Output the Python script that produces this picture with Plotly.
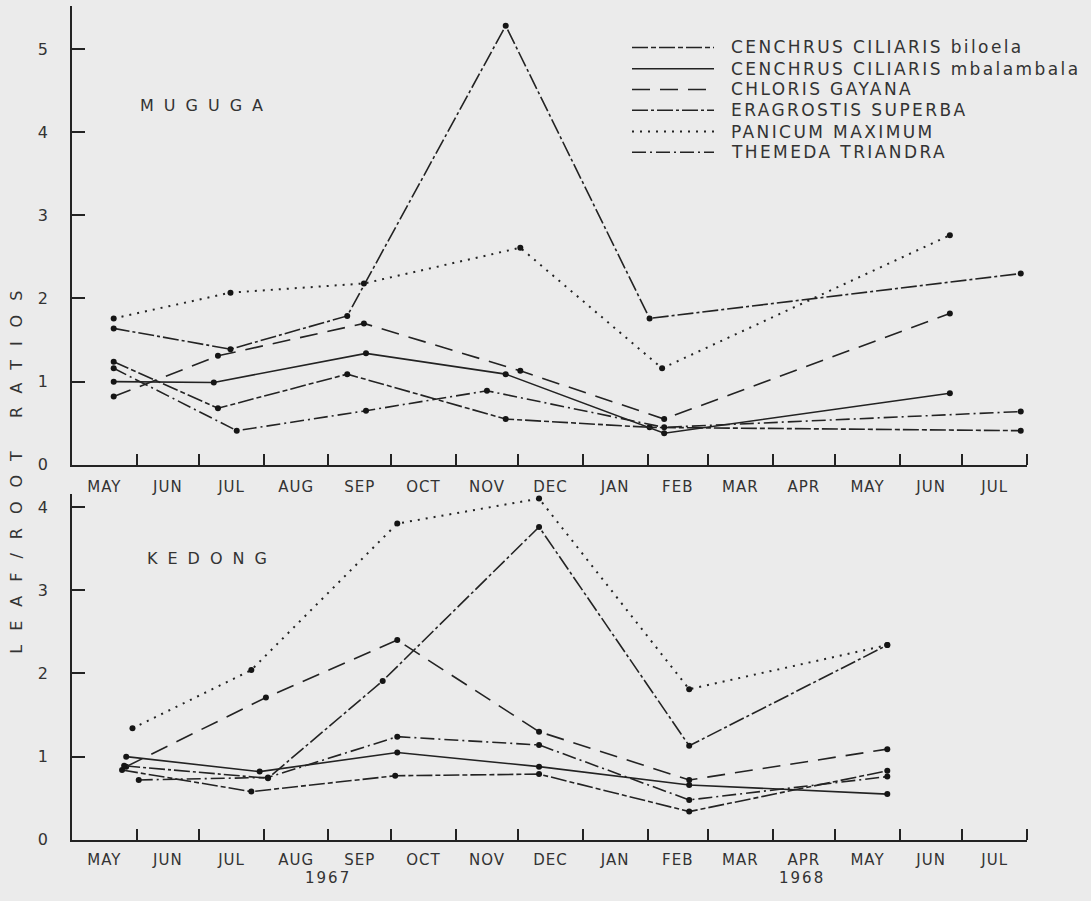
import pandas as pd
import plotly.graph_objects as go

# ---------------- data ----------------
SERIES = [
    "CENCHRUS CILIARIS biloela",
    "CENCHRUS CILIARIS mbalambala",
    "CHLORIS GAYANA",
    "ERAGROSTIS SUPERBA",
    "PANICUM MAXIMUM",
    "THEMEDA TRIANDRA",
]

MONTH_LABELS = ["MAY", "JUN", "JUL", "AUG", "SEP", "OCT", "NOV", "DEC",
                "JAN", "FEB", "MAR", "APR", "MAY", "JUN", "JUL"]
YEAR_LABELS = ["1967", "1968"]
YEAR_LABEL_DATES = ["1967-09-01", "1968-04-15"]

# MUGUGA (top panel)
mug_biloela_dates = ["1967-05-21", "1967-07-10", "1967-09-10", "1967-11-25", "1968-02-02", "1968-07-29"]
mug_biloela_vals = [1.24, 0.68, 1.09, 0.55, 0.45, 0.41]
mug_mbal_dates = ["1967-05-21", "1967-07-08", "1967-09-19", "1967-11-25", "1968-02-09", "1968-06-25"]
mug_mbal_vals = [1.00, 0.99, 1.34, 1.09, 0.38, 0.86]
mug_chloris_dates = ["1967-05-21", "1967-07-10", "1967-09-18", "1967-12-02", "1968-02-09", "1968-06-25"]
mug_chloris_vals = [0.82, 1.31, 1.70, 1.13, 0.55, 1.82]
mug_erag_dates = ["1967-05-21", "1967-07-16", "1967-09-10", "1967-11-25", "1968-02-02", "1968-07-29"]
mug_erag_vals = [1.64, 1.39, 1.79, 5.28, 1.76, 2.30]
mug_panicum_dates = ["1967-05-21", "1967-07-16", "1967-09-18", "1967-12-02", "1968-02-08", "1968-06-25"]
mug_panicum_vals = [1.76, 2.07, 2.18, 2.61, 1.16, 2.76]
mug_themeda_dates = ["1967-05-21", "1967-07-19", "1967-09-19", "1967-11-16", "1968-02-09", "1968-07-29"]
mug_themeda_vals = [1.16, 0.41, 0.65, 0.89, 0.45, 0.64]

# KEDONG (bottom panel)
ked_biloela_dates = ["1967-05-25", "1967-07-26", "1967-10-03", "1967-12-11", "1968-02-21", "1968-05-26"]
ked_biloela_vals = [0.84, 0.58, 0.77, 0.79, 0.34, 0.83]
ked_mbal_dates = ["1967-05-27", "1967-07-30", "1967-10-04", "1967-12-11", "1968-02-21", "1968-05-26"]
ked_mbal_vals = [1.00, 0.82, 1.05, 0.88, 0.66, 0.55]
ked_chloris_dates = ["1967-05-27", "1967-08-02", "1967-10-04", "1967-12-11", "1968-02-21", "1968-05-26"]
ked_chloris_vals = [0.88, 1.71, 2.40, 1.30, 0.72, 1.09]
ked_erag_dates = ["1967-05-26", "1967-08-03", "1967-09-27", "1967-12-11", "1968-02-21", "1968-05-26"]
ked_erag_vals = [0.89, 0.74, 1.91, 3.76, 1.13, 2.34]
ked_panicum_dates = ["1967-05-30", "1967-07-26", "1967-10-04", "1967-12-11", "1968-02-21", "1968-05-26"]
ked_panicum_vals = [1.34, 2.04, 3.80, 4.10, 1.81, 2.34]
ked_themeda_dates = ["1967-06-02", "1967-08-03", "1967-10-04", "1967-12-11", "1968-02-21", "1968-05-26"]
ked_themeda_vals = [0.72, 0.75, 1.24, 1.14, 0.48, 0.76]

TOP_TICKS = [0, 1, 2, 3, 4, 5]
BOTTOM_TICKS = [0, 1, 2, 3, 4]

# ---------------- styling ----------------
W, H = 1091, 901
INK = "#232323"
TXT = "#333333"
BG = "#ebebeb"
FONT = "DejaVu Sans"
DASHES = ["16px,3px,5px,3px", "solid", "18px,10px", "16px,3px,3px,3px", "2px,6px", "14px,4px,2px,4px"]
WIDTHS = [1.6, 1.6, 1.6, 1.6, 2.0, 1.6]

muguga = [(mug_biloela_dates, mug_biloela_vals), (mug_mbal_dates, mug_mbal_vals),
          (mug_chloris_dates, mug_chloris_vals), (mug_erag_dates, mug_erag_vals),
          (mug_panicum_dates, mug_panicum_vals), (mug_themeda_dates, mug_themeda_vals)]
kedong = [(ked_biloela_dates, ked_biloela_vals), (ked_mbal_dates, ked_mbal_vals),
          (ked_chloris_dates, ked_chloris_vals), (ked_erag_dates, ked_erag_vals),
          (ked_panicum_dates, ked_panicum_vals), (ked_themeda_dates, ked_themeda_vals)]

month_starts = pd.date_range("1967-05-01", periods=16, freq="MS")
month_mids = [month_starts[i] + (month_starts[i + 1] - month_starts[i]) / 2 for i in range(15)]


def spaced(txt, px):
    return f'<span style="letter-spacing:{px}px">{txt}</span>'


def px_x(p):
    return p / W


def px_y(p):
    return 1 - p / H


fig = go.Figure()
for xa, ya, data in [("x", "y", muguga), ("x2", "y2", kedong)]:
    for i, (d, v) in enumerate(data):
        fig.add_trace(go.Scatter(
            x=d, y=v, mode="lines", xaxis=xa, yaxis=ya,
            line=dict(color=INK, width=WIDTHS[i], dash=DASHES[i]),
            name=SERIES[i], showlegend=False, hoverinfo="skip"))
        fig.add_trace(go.Scatter(
            x=d, y=v, mode="markers", xaxis=xa, yaxis=ya, name=SERIES[i],
            marker=dict(color="#151515", size=6), showlegend=False, hoverinfo="skip"))

XDOM = [px_x(72), px_x(1027)]
xcommon = dict(
    type="date", domain=XDOM, range=[month_starts[0], month_starts[-1]],
    tickmode="array", tickvals=month_mids, ticktext=[spaced(m, 1) for m in MONTH_LABELS], ticks="",
    showline=True, linecolor=INK, linewidth=1.8, showgrid=False, zeroline=False,
    tickfont=dict(family=FONT, size=15, color=TXT),
    minor=dict(tickmode="array", tickvals=list(month_starts[1:]), ticks="inside", ticklen=11,
               tickwidth=1.6, tickcolor=INK, showgrid=False),
)
ycommon = dict(
    showline=True, linecolor=INK, linewidth=1.8, showgrid=False, zeroline=False,
    ticks="inside", ticklen=13, tickwidth=1.6, tickcolor=INK, ticklabelstandoff=19,
    tickfont=dict(family=FONT, size=16, color=TXT), tickmode="array",
)

fig.update_layout(
    width=W, height=H, margin=dict(l=0, r=0, t=0, b=0),
    paper_bgcolor=BG, plot_bgcolor=BG, showlegend=False,
    xaxis=dict(anchor="y", ticklabelstandoff=7, **xcommon),
    yaxis=dict(anchor="x", domain=[px_y(470), px_y(5.8)], range=[0, 5.52],
               tickvals=TOP_TICKS, **ycommon),
    xaxis2=dict(anchor="y2", ticklabelstandoff=5, **xcommon),
    yaxis2=dict(anchor="x2", domain=[px_y(849.3), px_y(500)], range=[0, 4.15],
                tickvals=BOTTOM_TICKS, **ycommon),
)

# legend drawn as text + sample lines (top-right of the upper panel)
LEG_ROWS = [48, 69.5, 90.5, 111.5, 133, 154]
annots = []
shapes = []
for i, row in enumerate(LEG_ROWS):
    shapes.append(dict(type="line", xref="paper", yref="paper",
                       x0=px_x(632), x1=px_x(714), y0=px_y(row), y1=px_y(row),
                       line=dict(color=INK, width=WIDTHS[i], dash=DASHES[i])))
    annots.append(dict(text=spaced(SERIES[i], 2.4), x=px_x(729), y=px_y(row), xref="paper", yref="paper",
                       xanchor="left", yanchor="middle", font=dict(family=FONT, size=17, color=TXT)))

annots += [
    dict(text=spaced("MUGUGA", 10), x=px_x(206), y=px_y(107), xref="paper", yref="paper"),
    dict(text=spaced("KEDONG", 10), x=px_x(212), y=px_y(565), xref="paper", yref="paper"),
    dict(text=spaced("LEAF/ROOT RATIOS", 14), x=px_x(17), y=px_y(471), xref="paper", yref="paper",
         textangle=-90),
]
for lab, dt in zip(YEAR_LABELS, YEAR_LABEL_DATES):
    annots.append(dict(text=spaced(lab, 2), x=dt, y=px_y(888), xref="x2", yref="paper",
                       font=dict(family=FONT, size=15, color=TXT)))
for a in annots:
    a.setdefault("font", dict(family=FONT, size=16, color=TXT))
    a.setdefault("xanchor", "center")
    a.setdefault("yanchor", "middle")
    a["showarrow"] = False
fig.update_layout(annotations=annots, shapes=shapes)

page_fix = (
    "var s=document.documentElement.style;s.margin='0';s.padding='0';s.overflow='hidden';"
    "s.background='#ebebeb';"
    "var b=document.body.style;b.margin='0';b.padding='0';b.overflow='hidden';"
    "b.background='#ebebeb';"
)
fig.write_html("out.html", config={"displayModeBar": False}, post_script=page_fix)
